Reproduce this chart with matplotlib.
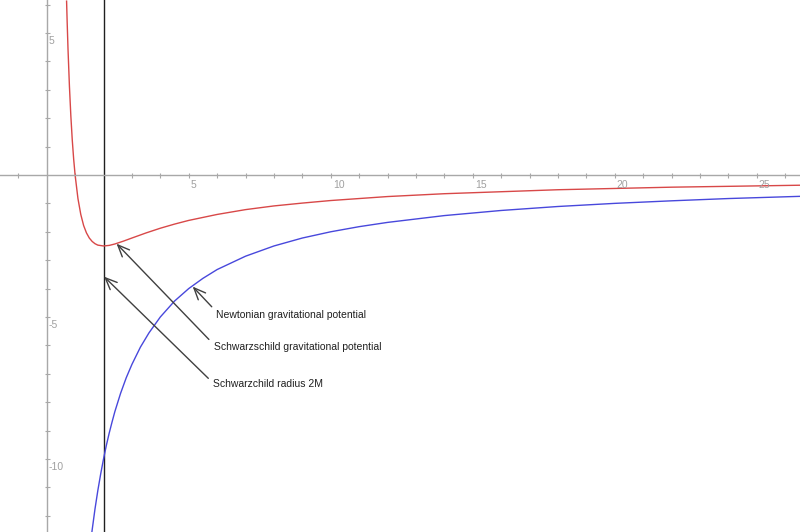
import numpy as np
import matplotlib
matplotlib.use('Agg')
import matplotlib.pyplot as plt

# values
r_newton = [1.55, 1.6, 1.7, 1.8, 1.9, 2.0, 2.1, 2.2, 2.3, 2.4, 2.6, 2.8, 3.0, 3.3, 3.6, 4.0,
            4.5, 5.0, 5.5, 6.0, 7.0, 8.0, 9.0, 10, 11, 12, 14, 16, 18, 20, 22, 24, 26.6]
v_newton = [-12.9, -12.5, -11.76, -11.11, -10.53, -10.0, -9.52, -9.09, -8.70, -8.33, -7.69,
            -7.14, -6.67, -6.06, -5.56, -5.0, -4.44, -4.0, -3.64, -3.33, -2.86, -2.5, -2.22,
            -2.0, -1.82, -1.67, -1.43, -1.25, -1.11, -1.0, -0.91, -0.83, -0.75]

r_schw = [0.70, 0.72, 0.75, 0.8, 0.85, 0.9, 0.95, 1.0, 1.1, 1.2, 1.3, 1.4, 1.5, 1.6, 1.7,
          1.8, 2.0, 2.2, 2.4, 2.7, 3.0, 3.5, 4.0, 4.5, 5.0, 6.0, 7.0, 8.0, 9.0, 10, 12,
          14, 16, 18, 20, 22, 24, 26.6]
v_schw = [6.12, 5.40, 4.44, 3.13, 2.08, 1.23, 0.55, 0.0, -0.83, -1.39, -1.78, -2.04, -2.22,
          -2.34, -2.42, -2.47, -2.5, -2.48, -2.43, -2.33, -2.22, -2.04, -1.875, -1.73, -1.6,
          -1.39, -1.22, -1.09, -0.99, -0.9, -0.76, -0.66, -0.59, -0.52, -0.475, -0.43,
          -0.40, -0.36]

r_horizon = 2.0

x_labels = [5, 10, 15, 20, 25]
y_labels = [5, -5, -10]

# annotations: text, arrow tip, arrow tail, text anchor
notes = [
    ('Newtonian gravitational potential', (5.14, -3.93), (5.81, -4.64), (5.95, -4.92)),
    ('Schwarzschild gravitational potential', (2.46, -2.42), (5.71, -5.79), (5.89, -6.05)),
    ('Schwarzchild radius 2M', (2.02, -3.58), (5.69, -7.16), (5.85, -7.37)),
]

plt.rcParams['font.family'] = ['Liberation Sans', 'DejaVu Sans']
fig = plt.figure(figsize=(8, 5.32), dpi=100)
ax = fig.add_axes([0, 0, 1, 1])
ax.set_xlim(-1.644, 26.52)
ax.set_ylim(-12.57, 6.16)

axis_col = '#a8a8a8'
for s in ['top', 'right']:
    ax.spines[s].set_visible(False)
ax.spines['left'].set_position(('data', 0))
ax.spines['bottom'].set_position(('data', 0))
ax.spines['left'].set_color(axis_col)
ax.spines['bottom'].set_color(axis_col)
ax.spines['left'].set_linewidth(1)
ax.spines['bottom'].set_linewidth(1)

ax.set_xticks([-1] + list(range(1, 27)))
ax.set_yticks([v for v in range(-12, 7) if v != 0])
ax.set_xticks([5, 10, 15, 20, 25], minor=True)
ax.set_yticks([-10, -5, 5], minor=True)
ax.tick_params(which='major', direction='inout', length=3.6, width=0.8, color=axis_col,
               labelbottom=False, labelleft=False)
ax.tick_params(which='minor', direction='inout', length=6.5, width=0.8, color=axis_col)
ax.tick_params(axis='both', which='minor', labelbottom=False, labelleft=False)

for v in x_labels:
    ax.annotate(str(v), (v, 0), xytext=(1.5, -3.5), textcoords='offset points',
                ha='left', va='top', fontsize=7.5, color='#a0a0a0')
for v in y_labels:
    ax.annotate(str(v), (0, v), xytext=(1.5, -2.5), textcoords='offset points',
                ha='left', va='top', fontsize=7.5, color='#a0a0a0')

ax.axvline(r_horizon, color='#202020', lw=1)
ax.plot(r_schw, v_schw, color='#d84848', lw=1)
ax.plot(r_newton, v_newton, color='#4848dc', lw=1)

for txt, tip, tail, pos in notes:
    ax.annotate('', xy=tip, xytext=tail,
                arrowprops=dict(arrowstyle='->, head_length=0.7, head_width=0.3',
                                color='#404040', lw=1, mutation_scale=12,
                                shrinkA=0, shrinkB=0))
    ax.text(pos[0], pos[1], txt, ha='left', va='center', fontsize=7.5, color='#202020')

fig.savefig('out.png', dpi=100)
